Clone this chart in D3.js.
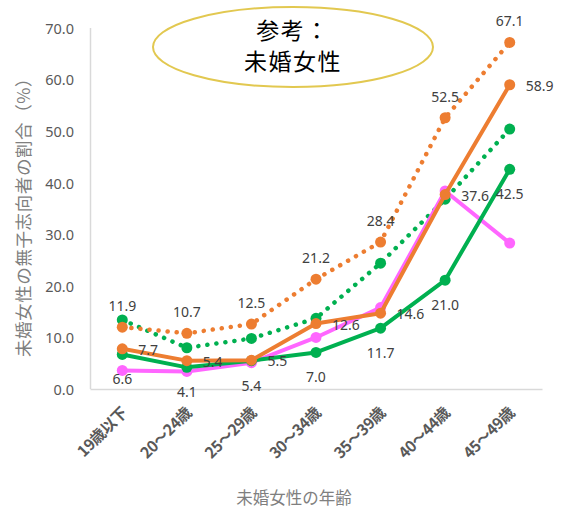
<!DOCTYPE html>
<html><head><meta charset="utf-8">
<script src="https://cdn.jsdelivr.net/npm/d3@7"></script>
<style>
html,body{margin:0;padding:0;background:#fff;}
svg{display:block;font-family:"Noto Sans","Noto Sans CJK JP",sans-serif;}
</style></head>
<body>
<svg id="chart" width="561" height="509"></svg>
<script>
const categories = ["19歳以下","20〜24歳","25〜29歳","30〜34歳","35〜39歳","40〜44歳","45〜49歳"];
const orangeDotted = [11.9, 10.7, 12.5, 21.2, 28.4, 52.5, 67.1];
const orangeSolid  = [7.7, 5.4, 5.5, 12.6, 14.6, 37.6, 58.9];
const greenSolid   = [6.6, 4.1, 5.4, 7.0, 11.7, 21.0, 42.5];
const greenDotted  = [13.3, 7.9, 9.7, 13.6, 24.3, 36.7, 50.3];
const pinkSolid    = [3.5, 3.3, 5.0, 9.9, 15.7, 38.3, 28.2];
const yTicks = [0, 10, 20, 30, 40, 50, 60, 70];
const legendLines = ["参考：", "未婚女性"];
const yTitle = "未婚女性の無子志向者の割合（%）";
const xTitle = "未婚女性の年齢";

const svg = d3.select("#chart");
const pLeft = 90, pRight = 542, pTop = 27.5, pBottom = 388.5;

const x = d3.scaleBand().domain(categories).range([pLeft, pRight]);
const y = d3.scaleLinear().domain([0, 70]).range([pBottom, pTop]);
const cx = c => x(c) + x.bandwidth() / 2;

// axes
const yAxis = svg.append("g").attr("transform", `translate(${pLeft},0)`)
  .call(d3.axisLeft(y).tickValues(yTicks).tickSize(0).tickPadding(16).tickFormat(d3.format(".1f")));
yAxis.select(".domain").attr("stroke", "#d9d9d9").attr("stroke-width", 1.5);
yAxis.selectAll("text").attr("fill", "#595959").attr("font-size", "14.5px")
  .attr("font-family", "Noto Sans, sans-serif").attr("dy", "0.4em");

const xAxis = svg.append("g").attr("transform", `translate(0,${pBottom + 0.5})`)
  .call(d3.axisBottom(x).tickSize(0).tickFormat(d => d));
xAxis.select(".domain").attr("stroke", "#d9d9d9").attr("stroke-width", 1.5);
xAxis.selectAll("text")
  .attr("fill", "#595959").attr("font-size", "15.5px").attr("font-weight", "bold")
  .attr("font-family", "Noto Sans CJK JP")
  .attr("letter-spacing", "-0.5px")
  .attr("text-anchor", "end")
  .attr("y", 0).attr("dy", "0.35em")
  .attr("transform", "translate(2,21) rotate(-45)");

// titles
svg.append("text").attr("transform", "translate(30,213) rotate(-90)")
  .attr("text-anchor", "middle").attr("fill", "#7f7f7f").attr("font-size", "17.5px")
  .attr("letter-spacing", "0.6px")
  .attr("font-family", "Noto Sans CJK JP").text(yTitle);
svg.append("text").attr("x", 294).attr("y", 504)
  .attr("text-anchor", "middle").attr("fill", "#7f7f7f").attr("font-size", "16.5px")
  .attr("font-family", "Noto Sans CJK JP").text(xTitle);

// series
const series = [
  {data: greenDotted, color: "#00B050", dotted: true},
  {data: pinkSolid, color: "#FF66FF", dotted: false},
  {data: greenSolid, color: "#00B050", dotted: false},
  {data: orangeSolid, color: "#ED7D31", dotted: false},
  {data: orangeDotted, color: "#ED7D31", dotted: true}
];
const line = d3.line().x((d, i) => cx(categories[i])).y(d => y(d));
series.forEach(s => {
  const g = svg.append("g");
  g.append("path").attr("d", line(s.data)).attr("fill", "none")
    .attr("stroke", s.color)
    .attr("stroke-width", s.dotted ? 4.5 : 4)
    .attr("stroke-linecap", "round").attr("stroke-linejoin", "round")
    .attr("stroke-dasharray", s.dotted ? "0.1 9" : null);
  g.selectAll("circle").data(s.data).join("circle")
    .attr("cx", (d, i) => cx(categories[i])).attr("cy", d => y(d))
    .attr("r", 5.5).attr("fill", s.color);
});

// data labels
const lbl = svg.append("g").attr("font-size", "14px").attr("fill", "#404040")
  .attr("font-family", "Noto Sans, sans-serif");
lbl.selectAll(".od").data(orangeDotted).join("text")
  .attr("x", (d, i) => cx(categories[i])).attr("y", d => y(d) - 16)
  .attr("text-anchor", "middle").text(d => d.toFixed(1));
lbl.selectAll(".os").data(orangeSolid).join("text")
  .attr("x", (d, i) => cx(categories[i]) + 16).attr("y", d => y(d) + 6)
  .attr("text-anchor", "start").text(d => d.toFixed(1));
lbl.selectAll(".gs").data(greenSolid).join("text")
  .attr("x", (d, i) => cx(categories[i])).attr("y", d => y(d) + 30)
  .attr("text-anchor", "middle").text(d => d.toFixed(1));

// legend ellipse
const leg = svg.append("g");
leg.append("ellipse").attr("cx", 293).attr("cy", 47).attr("rx", 140).attr("ry", 40)
  .attr("fill", "#fff").attr("stroke", "#E2C850").attr("stroke-width", 2);
leg.selectAll("text").data(legendLines).join("text")
  .attr("x", 293).attr("y", (d, i) => 39 + i * 31)
  .attr("text-anchor", "middle").attr("fill", "#000").attr("font-size", "23px")
  .attr("letter-spacing", "1.5px")
  .attr("font-family", "Noto Sans CJK JP").text(d => d);
</script>
</body></html>
